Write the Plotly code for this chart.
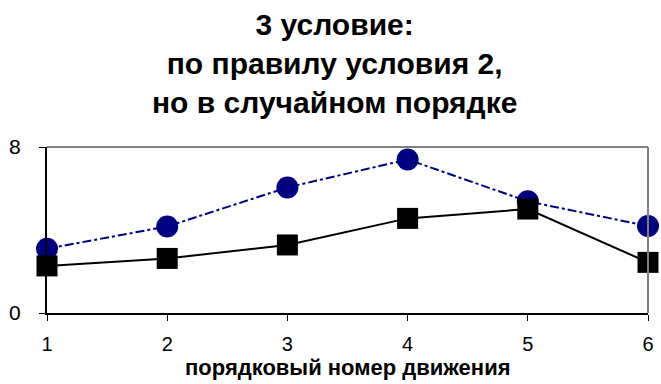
import plotly.graph_objects as go

x_vals = [1, 2, 3, 4, 5, 6]
series_circles = [3.1, 4.17, 6.05, 7.4, 5.38, 4.19]
series_squares = [2.27, 2.63, 3.28, 4.56, 5.01, 2.44]
y_ticks = [0, 8]
x_ticks = [1, 2, 3, 4, 5, 6]

title_text = "<b>3 условие:<br>по правилу условия 2,<br>но в случайном порядке</b>"
x_title = "<b>порядковый номер движения</b>"

FONT = "Liberation Sans, Arial, sans-serif"

fig = go.Figure()
fig.add_trace(go.Scatter(
    x=x_vals, y=series_circles, mode="lines+markers",
    line=dict(color="#000080", width=2, dash="dashdot"),
    marker=dict(symbol="circle", size=22, color="#000080"),
    cliponaxis=False, showlegend=False,
))
fig.add_trace(go.Scatter(
    x=x_vals, y=series_squares, mode="lines+markers",
    line=dict(color="#000000", width=2),
    marker=dict(symbol="square", size=21, color="#000000"),
    cliponaxis=False, showlegend=False,
))

fig.update_layout(
    width=661, height=384,
    margin=dict(l=47, r=7, t=147, b=71),
    paper_bgcolor="white", plot_bgcolor="white",
    font=dict(family=FONT, color="black"),
    xaxis=dict(range=[1, 6], tickvals=x_ticks, showgrid=False, zeroline=False,
               showline=True, linecolor="black", linewidth=2,
               ticks="outside", ticklen=6, tickcolor="black", tickwidth=1,
               tickfont=dict(size=20), ticklabelstandoff=6),
    yaxis=dict(range=[0, 8], tickvals=y_ticks, showgrid=False, zeroline=False,
               showline=True, linecolor="black", linewidth=2,
               ticks="outside", ticklen=6, tickcolor="black", tickwidth=1,
               tickfont=dict(size=21), ticklabelstandoff=14),
    shapes=[
        dict(type="line", xref="paper", yref="paper", x0=0, x1=1, y0=1, y1=1,
             line=dict(color="#808080", width=2)),
        dict(type="line", xref="paper", yref="paper", x0=1, x1=1, y0=0, y1=1,
             line=dict(color="#808080", width=2)),
    ],
    annotations=[
        dict(text=title_text, xref="paper", yref="paper", x=0.479, y=1.506,
             xanchor="center", yanchor="middle", showarrow=False,
             font=dict(size=30, family=FONT, color="black")),
        dict(text=x_title, xref="paper", yref="paper", x=0.5, y=-0.331,
             xanchor="center", yanchor="middle", showarrow=False,
             font=dict(size=22, family=FONT, color="black")),
    ],
)

fig.write_html("out.html")
